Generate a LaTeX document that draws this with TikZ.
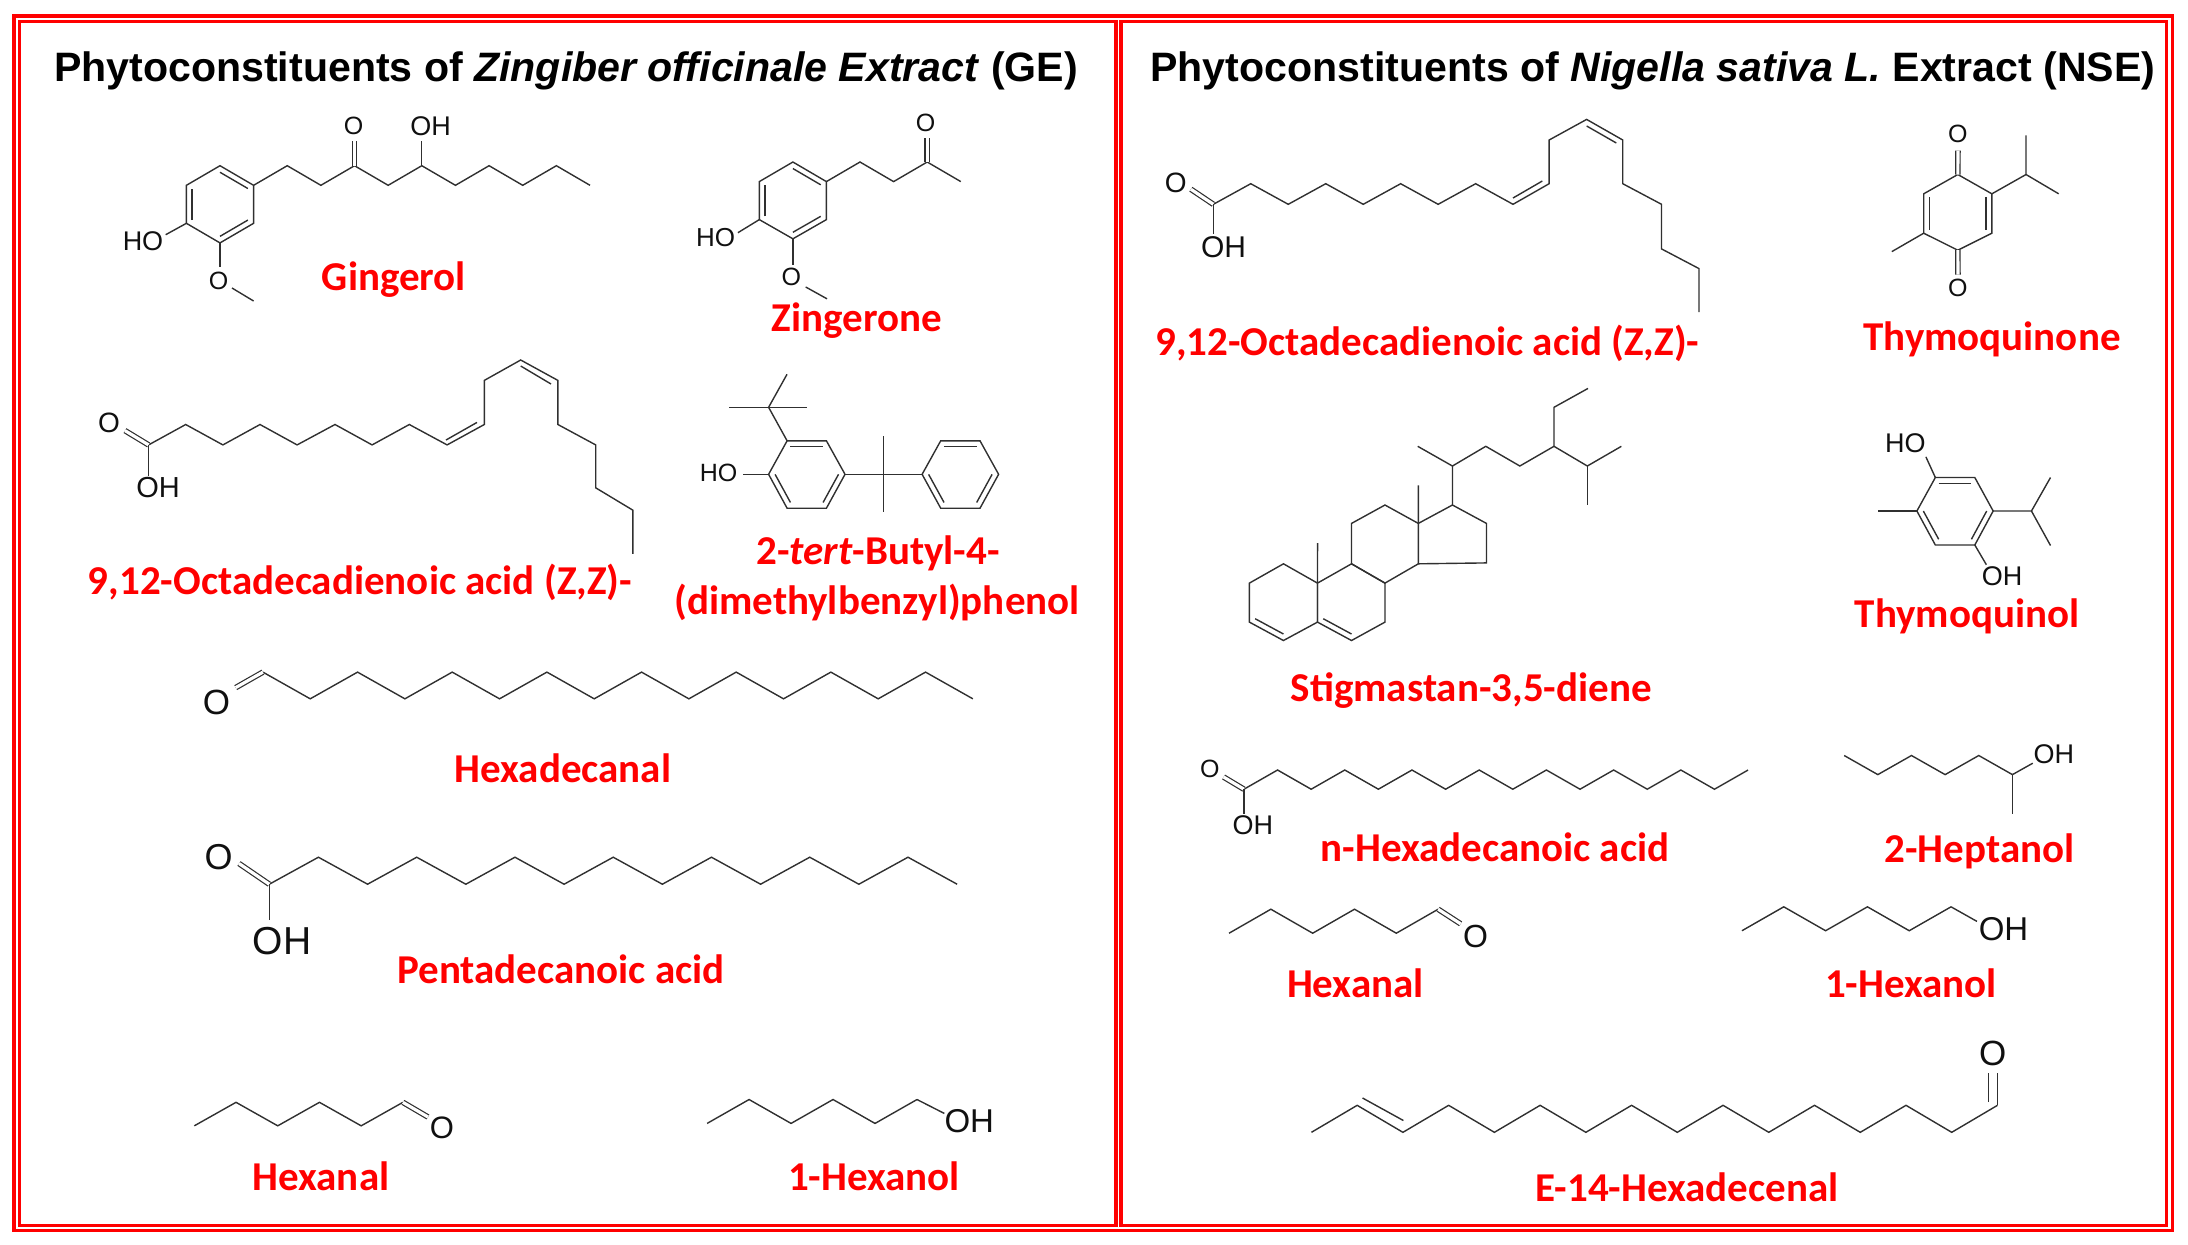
\documentclass[tikz,border=0pt]{standalone}
\usepackage{fontspec}
\usetikzlibrary{calc}
\setmainfont{Carlito}
\newfontfamily\arialf{Liberation Sans}
\definecolor{bondc}{HTML}{303030}
\definecolor{atomc}{HTML}{101010}
\tikzset{
  frameline/.style={draw=red,line width=1.6pt},
  bond/.style={draw=bondc,line width=.7pt,line join=miter},
  dblbond/.style={draw=bondc,line width=.6pt,double=white,double distance=1.6pt},
  ttl/.style={font=\fontsize{20.55}{24}\arialf\bfseries,text=black,inner sep=0pt},
  lbl/.style={font=\fontsize{20.5}{24}\selectfont\bfseries,text=red,inner sep=0pt},
  atom/.style={font=\fontsize{#1}{#1}\arialf,text=atomc,inner sep=0pt}
}
% six-membered ring with named corners
\newcommand\mring[7]{%
  \coordinate (#1a) at #2; \coordinate (#1b) at #3; \coordinate (#1c) at #4;
  \coordinate (#1d) at #5; \coordinate (#1e) at #6; \coordinate (#1f) at #7;
  \coordinate (#1o) at ($(#1a)!.5!(#1d)$);
  \draw[bond] (#1a)--(#1b)--(#1c)--(#1d)--(#1e)--(#1f)--cycle;}
% inner line of a ring double bond
\newcommand\inb[3]{\draw[bond] ($(#1#2)!.17!(#1o)$) -- ($(#1#3)!.17!(#1o)$);}
% zigzag chain: x0, dx, steps, y0, y1
\newcommand\zig[5]{\draw[bond] (#1,#4) \foreach \k [evaluate=\k as \xx using #1+\k*#2, evaluate=\k as \yy using {isodd(\k)?#5:#4}] in {1,...,#3}{ -- (\xx,\yy)};}
\begin{document}
\begin{tikzpicture}[x=.5pt,y=-.5pt]
\useasboundingbox (0,0) rectangle (2188,1244);
% frames
\draw[frameline] (14,16) rectangle (2172.5,1230.5);
\draw[frameline] (19.5,21.5) rectangle (1116,1225.5);
\draw[frameline] (1121,21.5) rectangle (2166.5,1225.5);
% ---------- left panel
\node[ttl] (titleL) at (566,71) {Phytoconstituents of \textit{Zingiber officinale Extract} (GE)};
% Gingerol
\mring{g}{(220,165.7)}{(253.6,185.3)}{(253.6,223.3)}{(220,242.9)}{(186.4,223.3)}{(186.4,185.3)}
\inb{g}{a}{b}\inb{g}{c}{d}\inb{g}{e}{f}
\zig{253.6}{33.64}{10}{185.3}{165.7}
\draw[dblbond] (354.3,165.7) -- (354.3,140.8);
\draw[bond] (421.4,165.7) -- (421.4,140.8);
\draw[bond] (ge) -- (165.7,234.7);
\draw[bond] (gd) -- (220,267);
\draw[bond] (232,288) -- (253.6,301);
\node[atom=12.5] (g1) at (353.6,125.7) {O};
\node[atom=13.5] (g2) at (430.7,125.7) {OH};
\node[atom=13.5] (g3) at (143,241) {HO};
\node[atom=12.5] (g4) at (218.6,280.8) {O};
\node[lbl] (gl) at (394,280) {Gingerol};
% Zingerone
\mring{z}{(792.9,162)}{(826.4,181.6)}{(826.4,219.6)}{(792.9,238.8)}{(759.3,219.6)}{(759.3,181.6)}
\inb{z}{a}{b}\inb{z}{c}{d}\inb{z}{e}{f}
\zig{826.4}{33.6}{4}{181.6}{162}
\draw[dblbond] (927.1,162) -- (927.1,138);
\draw[bond] (ze) -- (737.9,232.7);
\draw[bond] (zd) -- (792.9,264.5);
\draw[bond] (805.7,287) -- (827,298.8);
\node[atom=12.5] (z1) at (925.7,122.4) {O};
\node[atom=13] (z2) at (715.7,237.6) {HO};
\node[atom=12.5] (z3) at (791.4,276.7) {O};
\node[lbl] (zl) at (857,320.5) {Zingerone};
% Octadecadienoic acid, left
\draw[bond] (148.6,444.9) -- (185.7,424.5) -- (222.9,444.9) -- (260,424.5) -- (297.1,444.9) -- (335,424.5) -- (372.1,444.9) -- (409.3,424.5) -- (447.1,444.9) -- (484.3,424.5) -- (484.3,380.4) -- (520.7,360) -- (557.9,380.4) -- (557.9,424.5) -- (595.7,444.9) -- (595.7,487.8) -- (632.9,510.2) -- (632.9,553.9);
\draw[bond] (446,440) -- (477,422.4);
\draw[bond] (520.7,366) -- (551,384);
\draw[dblbond] (148.6,444.9) -- (125,430.6);
\draw[bond] (148.6,444.9) -- (148.6,475.5);
\node[atom=14] (o1) at (109,422.9) {O};
\node[atom=14.5] (o2) at (158,488) {OH};
\node[lbl] (ol) at (360,582) {9,12-Octadecadienoic acid (Z,Z)-};
% tert-butyl phenol
\mring{p}{(787.1,440.8)}{(826.4,440.8)}{(845,474.3)}{(826.4,508.2)}{(787.1,508.2)}{(768.6,474.3)}
\inb{p}{a}{b}\inb{p}{c}{d}\inb{p}{e}{f}
\mring{q}{(940.7,440.8)}{(980,440.8)}{(998.6,474.3)}{(980,508.2)}{(940.7,508.2)}{(922.1,474.3)}
\inb{q}{a}{b}\inb{q}{c}{d}\inb{q}{e}{f}
\draw[bond] (pc) -- (qf);
\draw[bond] (883.6,436) -- (883.6,512);
\draw[bond] (pa) -- (768.6,407.3) -- (787,374.3);
\draw[bond] (729.3,407.3) -- (807.1,407.3);
\draw[bond] (pf) -- (742.9,474.3);
\node[atom=12.5] (p1) at (718.6,472.7) {HO};
\node[lbl] (pl1) at (878,553) {2-\textit{tert}-Butyl-4-};
\node[lbl] (pl2) at (877,602) {(dimethylbenzyl)phenol};
% Hexadecanal
\zig{262.9}{47.33}{15}{672.1}{698.8}
\draw[dblbond] (262.9,672.1) -- (235.7,687.6);
\node[atom=17.5] (h1) at (216.4,702.8) {O};
\node[lbl] (hl) at (563,768) {Hexadecanal};
% Pentadecanoic acid
\zig{269.3}{49.13}{14}{884.2}{857.2}
\draw[dblbond] (269.3,884.2) -- (239,863.5);
\draw[bond] (269.3,884.2) -- (269.3,920.4);
\node[atom=18] (d1) at (218.6,857.2) {O};
\node[atom=19.5] (d2) at (282,940.7) {OH};
\node[lbl] (dl) at (561,969) {Pentadecanoic acid};
% Hexanal, left
\zig{194.3}{41.72}{5}{1125.8}{1102.3}
\draw[dblbond] (402.9,1102.3) -- (428,1117);
\node[atom=15.5] (a1) at (442,1128) {O};
\node[lbl] (al) at (321,1176) {Hexanal};
% 1-Hexanol, left
\zig{707.1}{41.98}{5}{1123.4}{1099.5}
\draw[bond] (917,1099.5) -- (944.3,1113.4);
\node[atom=16.5] (b1) at (969.3,1121.4) {OH};
\node[lbl] (bl) at (874,1176) {1-Hexanol};
% ---------- right panel (x squeezed to match the reference)
\begin{scope}[xshift=7.435pt,xscale=.98672]
\node[ttl] (titleR) at (1660,70.5) {Phytoconstituents of \textit{Nigella sativa L.} Extract (NSE)};
% Octadecadienoic acid, right
\draw[bond] (1214.6,204.3) -- (1252.5,183.7) -- (1290.5,204.3) -- (1328.5,183.7) -- (1366.5,204.3) -- (1404.4,183.7) -- (1442.4,204.3) -- (1480.4,183.7) -- (1518.3,204.3) -- (1554.9,183.7) -- (1554.9,140) -- (1592.9,119.4) -- (1629.5,140) -- (1629.5,183.7) -- (1668.8,204.3) -- (1668.8,248.9) -- (1706.8,268.6) -- (1706.8,312.2);
\draw[bond] (1518.3,198) -- (1548,181);
\draw[bond] (1592.9,126) -- (1623,143);
\draw[dblbond] (1214.6,204.3) -- (1191.8,189.2);
\draw[bond] (1214.6,204.3) -- (1214.6,234.2);
\node[atom=14] (r1) at (1176.6,182.7) {O};
\node[atom=15] (r2) at (1224.9,247) {OH};
\node[lbl] (rl) at (1431.5,343) {9,12-Octadecadienoic acid (Z,Z)-};
% Thymoquinone
\mring{t}{(1969.2,174.5)}{(2003.7,193.8)}{(2003.7,233.2)}{(1969.2,250.2)}{(1934.6,233.2)}{(1934.6,193.8)}
\inb{t}{b}{c}\inb{t}{e}{f}
\draw[dblbond] (ta) -- (1969.2,150.6);
\draw[dblbond] (td) -- (1969.2,274.6);
\draw[bond] (tb) -- (2038.2,174.5) -- (2038.2,135.4);
\draw[bond] (2038.2,174.5) -- (2071.3,193.8);
\draw[bond] (te) -- (1902.2,251.6);
\node[atom=12.5] (t1) at (1969.2,134) {O};
\node[atom=12.5] (t2) at (1969.2,288.3) {O};
\node[lbl] (tl) at (2003.7,339) {Thymoquinone};
% Thymoquinol
\mring{u}{(1946.4,477.5)}{(1986.4,477.5)}{(2005,511)}{(1986.4,545)}{(1946.4,545)}{(1927.7,511)}
\inb{u}{a}{b}\inb{u}{c}{d}\inb{u}{e}{f}
\draw[bond] (ua) -- (1936.7,456.8);
\draw[bond] (ud) -- (1998,564.7);
\draw[bond] (uf) -- (1887.7,511);
\draw[bond] (uc) -- (2043.7,511) -- (2063,477.5);
\draw[bond] (2043.7,511) -- (2063,545.5);
\node[atom=13.5] (u1) at (1916,443) {HO};
\node[atom=13.5] (u2) at (2014,576) {OH};
\node[lbl] (ul) at (1978.5,616) {Thymoquinol};
% Stigmastan-3,5-diene
\mring{sa}{(1285.7,563.8)}{(1320.2,583.1)}{(1320.2,622.1)}{(1285.7,640.5)}{(1251.2,622.1)}{(1251.2,583.1)}
\mring{sb}{(1354.7,563.8)}{(1388.6,583.1)}{(1388.6,622.1)}{(1354.7,640.5)}{(1320.2,622.1)}{(1320.2,583.1)}
\mring{sc}{(1388.6,505)}{(1422.4,523.4)}{(1422.4,563.8)}{(1388.6,583.1)}{(1354.7,563.8)}{(1354.7,523.4)}
\inb{sa}{d}{e}\inb{sb}{d}{e}
\draw[bond] (scb) -- (1456.9,505) -- (1491.4,523.4) -- (1491.4,562.9) -- (scc);
\draw[bond] (sab) -- (1320.2,543.2);
\draw[bond] (scb) -- (1422.4,485.3);
\draw[bond] (1456.9,505) -- (1456.9,466) -- (1421.7,446.3);
\draw[bond] (1456.9,466) -- (1490.7,446.3) -- (1525.2,466) -- (1559.8,446.3) -- (1559.8,407.3) -- (1594.3,388.4);
\draw[bond] (1559.8,446.3) -- (1593.6,466) -- (1628.1,446.3);
\draw[bond] (1593.6,466) -- (1593.6,505);
\node[lbl] (sl) at (1476,691) {Stigmastan-3,5-diene};
% n-Hexadecanoic acid
\zig{1245.6}{34.06}{15}{789.2}{770}
\draw[dblbond] (1245.6,789.2) -- (1225,777);
\draw[bond] (1245.6,789.2) -- (1245.6,813.8);
\node[atom=12.5] (n1) at (1211,768.7) {O};
\node[atom=13.5] (n2) at (1254.6,825.6) {OH};
\node[lbl] (nl) at (1500,847) {n-Hexadecanoic acid};
% 2-Heptanol
\zig{1853.9}{34.1}{5}{755.5}{774.6}
\draw[bond] (2024.4,774.6) -- (2045,763.2);
\draw[bond] (2024.4,774.6) -- (2024.4,813.5);
\node[atom=13.5] (v1) at (2066.5,753.8) {OH};
\node[lbl] (vl) at (1991,851) {2-Heptanol};
% Hexanal, right
\zig{1230.5}{42.38}{5}{933.2}{909.2}
\draw[dblbond] (1442.4,909.2) -- (1465.2,923.8);
\node[atom=16] (w1) at (1480.4,936) {O};
\node[lbl] (wl) at (1358.5,982.8) {Hexanal};
% 1-Hexanol, right
\zig{1750.3}{42.38}{5}{930.7}{906.8}
\draw[bond] (1962.2,906.8) -- (1988.5,921.4);
\node[atom=16.5] (y1) at (2015.4,929) {OH};
\node[lbl] (yl) at (1921.5,982.8) {1-Hexanol};
% E-14-Hexadecenal
\zig{1314}{46.35}{15}{1132.3}{1105.3}
\draw[bond] (1365.8,1098) -- (1407.2,1120.5);
\draw[bond] (2009.2,1105.3) -- (2009.2,1073.3);
\draw[bond] (2000.2,1102) -- (2000.2,1073.3);
\node[atom=17.5] (e1) at (2004.4,1053.2) {O};
\node[lbl] (el) at (1694.6,1186.8) {E-14-Hexadecenal};
\end{scope}
\end{tikzpicture}
\end{document}
